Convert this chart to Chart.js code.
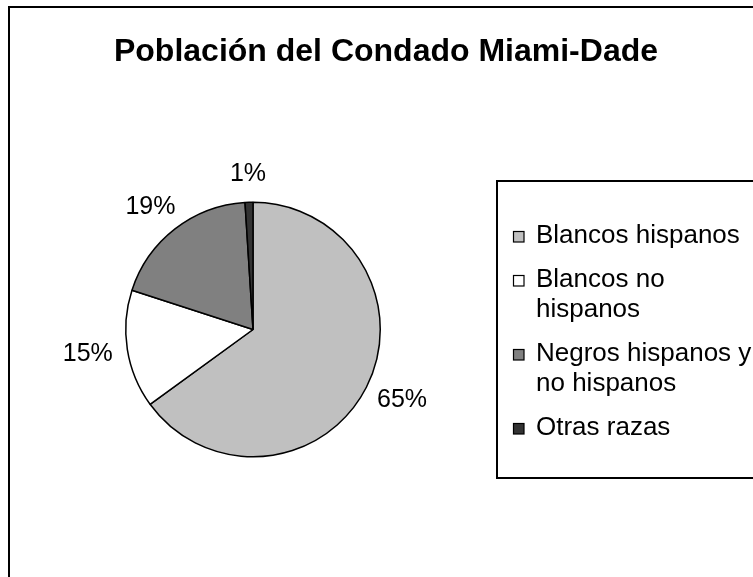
<!DOCTYPE html>
<html>
<head>
<meta charset="utf-8">
<script src="https://cdn.jsdelivr.net/npm/chart.js@4"></script>
<style>
  html, body { margin: 0; padding: 0; background: #fff; }
  #wrap { width: 753px; height: 577px; position: relative; }
</style>
</head>
<body>
<div id="wrap"><canvas id="pieChart"></canvas></div>
<script>
const chartTitle = 'Población del Condado Miami-Dade';
const categories = ['Blancos hispanos', 'Blancos no hispanos', 'Negros hispanos y no hispanos', 'Otras razas'];
const shares = [65, 15, 19, 1];
const sliceColors = ['#c0c0c0', '#ffffff', '#808080', '#333333'];

const FONT = '"Liberation Sans", Arial, sans-serif';

function wrapWords(ctx, text, maxWidth) {
  const words = text.split(' ');
  const lines = [];
  let line = '';
  words.forEach((w) => {
    const test = line ? line + ' ' + w : w;
    if (ctx.measureText(test).width > maxWidth && line) {
      lines.push(line);
      line = w;
    } else {
      line = test;
    }
  });
  if (line) lines.push(line);
  return lines;
}

// frame, title, outside labels and the boxed legend
const decorations = {
  id: 'decorations',
  afterDraw(chart) {
    const ctx = chart.ctx;
    ctx.save();

    ctx.strokeStyle = '#000';
    ctx.lineWidth = 2;
    ctx.strokeRect(9, 7, 800, 620);

    ctx.fillStyle = '#000';
    ctx.font = 'bold 32px ' + FONT;
    ctx.textAlign = 'center';
    ctx.textBaseline = 'alphabetic';
    ctx.fillText(chartTitle, 386, 61);

    // percentage labels outside each slice
    const data = chart.data.datasets[0].data;
    const total = data.reduce((a, b) => a + b, 0);
    ctx.font = '25px ' + FONT;
    ctx.textBaseline = 'middle';
    chart.getDatasetMeta(0).data.forEach((arc, i) => {
      const mid = (arc.startAngle + arc.endAngle) / 2;
      const dx = Math.cos(mid);
      const dy = Math.sin(mid);
      const text = Math.round(data[i] / total * 100) + '%';
      const w = ctx.measureText(text).width;
      const r = arc.outerRadius + 15;
      const x = arc.x + dx * r + dx * w / 2;
      const y = arc.y + dy * r + dy * 13;
      ctx.fillText(text, x, y);
    });

    // legend box
    ctx.lineWidth = 2;
    ctx.strokeRect(497, 181, 300, 297);
    ctx.font = '26px ' + FONT;
    ctx.textAlign = 'left';
    let y = 236;
    chart.data.labels.forEach((label, i) => {
      const lines = wrapWords(ctx, label, 225);
      ctx.fillStyle = sliceColors[i];
      ctx.fillRect(513, y - 5, 11, 11);
      ctx.lineWidth = 1.2;
      ctx.strokeStyle = '#000';
      ctx.strokeRect(513.5, y - 4.5, 10.5, 10.5);
      ctx.fillStyle = '#000';
      lines.forEach((ln, k) => ctx.fillText(ln, 536, y + k * 30));
      y += (lines.length - 1) * 30 + 44;
    });

    ctx.restore();
  }
};

new Chart(document.getElementById('pieChart'), {
  type: 'pie',
  data: {
    labels: categories,
    datasets: [{
      data: shares,
      backgroundColor: sliceColors,
      borderColor: '#000',
      borderWidth: 1.5
    }]
  },
  options: {
    responsive: true,
    maintainAspectRatio: false,
    animation: false,
    layout: { padding: { left: 125, top: 201, right: 372, bottom: 119 } },
    plugins: {
      legend: { display: false },
      title: { display: false },
      tooltip: { enabled: false }
    }
  },
  plugins: [decorations]
});
</script>
</body>
</html>
